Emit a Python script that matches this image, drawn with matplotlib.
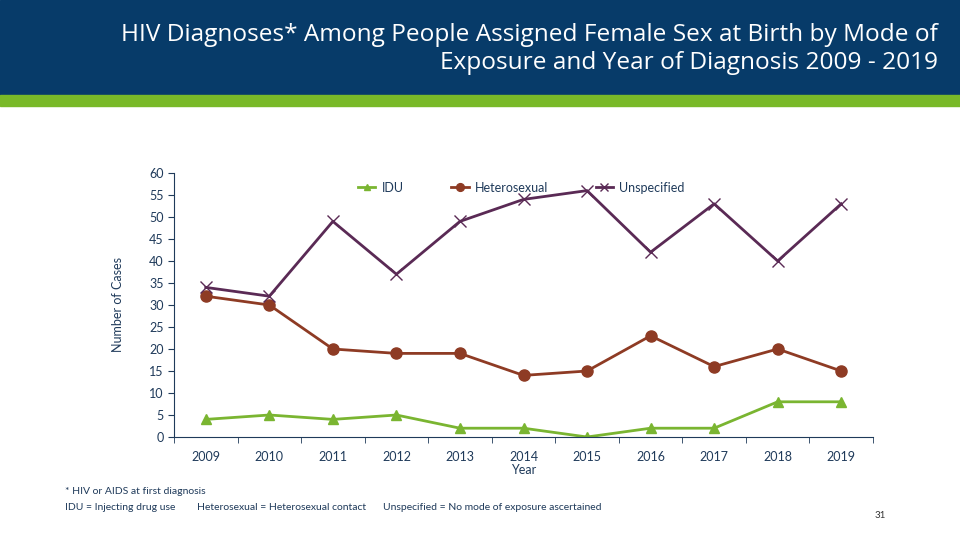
import matplotlib.pyplot as plt
from matplotlib.patches import Rectangle
from matplotlib.ticker import FixedLocator

plt.rcParams['font.family'] = ['Lato', 'DejaVu Sans']

YEARS = ["2009", "2010", "2011", "2012", "2013", "2014", "2015", "2016", "2017", "2018", "2019"]
IDU = [4, 5, 4, 5, 2, 2, 0, 2, 2, 8, 8]
HETERO = [32, 30, 20, 19, 19, 14, 15, 23, 16, 20, 15]
UNSPEC = [34, 32, 49, 37, 49, 54, 56, 42, 53, 40, 53]

NAVY = '#073b69'
GREEN_BAR = '#79b928'
TEXT = '#1f3a5a'

fig = plt.figure(figsize=(9.6, 5.4), dpi=100)

# header band and green strip
fig.patches.append(Rectangle((0, 1 - 95 / 540), 1, 95 / 540, transform=fig.transFigure,
                             color=NAVY, zorder=0))
fig.patches.append(Rectangle((0, 1 - 106 / 540), 1, 11 / 540, transform=fig.transFigure,
                             color=GREEN_BAR, zorder=0))
title_font = ['Open Sans', 'DejaVu Sans']
fig.text(938 / 960, 1 - 35 / 540,
         "HIV Diagnoses* Among People Assigned Female Sex at Birth by Mode of",
         color='white', fontsize=17.6, ha='right', va='center', family=title_font)
fig.text(938 / 960, 1 - 63 / 540, "Exposure and Year of Diagnosis 2009 - 2019",
         color='white', fontsize=17.6, ha='right', va='center', family=title_font)

ax = fig.add_axes([174 / 960, 1 - 437 / 540, 699 / 960, 264 / 540])
x = list(range(len(YEARS)))

ax.plot(x, IDU, color='#7ab531', marker='^', markersize=7, linewidth=2, label='IDU')
ax.plot(x, HETERO, color='#8e3b24', marker='o', markersize=8, linewidth=2, label='Heterosexual')
ax.plot(x, UNSPEC, color='#5a2a55', marker='x', markersize=9, markeredgewidth=1,
        linewidth=2, label='Unspecified')

ax.set_xlim(-0.5, len(YEARS) - 0.5)
ax.set_ylim(0, 60)
ax.set_yticks(range(0, 61, 5))
ax.set_xticks(x)
ax.set_xticklabels(YEARS)
ax.xaxis.set_minor_locator(FixedLocator([i - 0.5 for i in range(len(YEARS) + 1)]))
ax.tick_params(axis='x', which='major', length=0, pad=10, labelsize=9, colors=TEXT)
ax.tick_params(axis='x', which='minor', length=4, direction='out', color=TEXT)
ax.tick_params(axis='y', length=4, direction='out', labelsize=9, colors=TEXT)
for side in ['top', 'right']:
    ax.spines[side].set_visible(False)
for side in ['left', 'bottom']:
    ax.spines[side].set_color(TEXT)
ax.set_ylabel('Number of Cases', color=TEXT, fontsize=9, labelpad=18)
ax.set_xlabel('Year', color=TEXT, fontsize=9, labelpad=1)

ax.legend(loc='center left', bbox_to_anchor=(0.263, 0.945), ncol=3, frameon=False,
          fontsize=9, labelcolor=TEXT, columnspacing=3.8, handlelength=1.4,
          markerscale=0.7, handletextpad=0.5, borderpad=0, borderaxespad=0)

fig.text(65 / 960, 1 - 491 / 540, "* HIV or AIDS at first diagnosis",
         color=TEXT, fontsize=7.5, va='center')
fig.text(65 / 960, 1 - 508 / 540, "IDU = Injecting drug use",
         color=TEXT, fontsize=7.5, va='center')
fig.text(197 / 960, 1 - 508 / 540, "Heterosexual = Heterosexual contact",
         color=TEXT, fontsize=7.5, va='center')
fig.text(383 / 960, 1 - 508 / 540, "Unspecified = No mode of exposure ascertained",
         color=TEXT, fontsize=7.5, va='center')
fig.text(880 / 960, 1 - 515 / 540, "31", color='#333333', fontsize=7, ha='center', va='center')

fig.savefig('out.png', dpi=100)
